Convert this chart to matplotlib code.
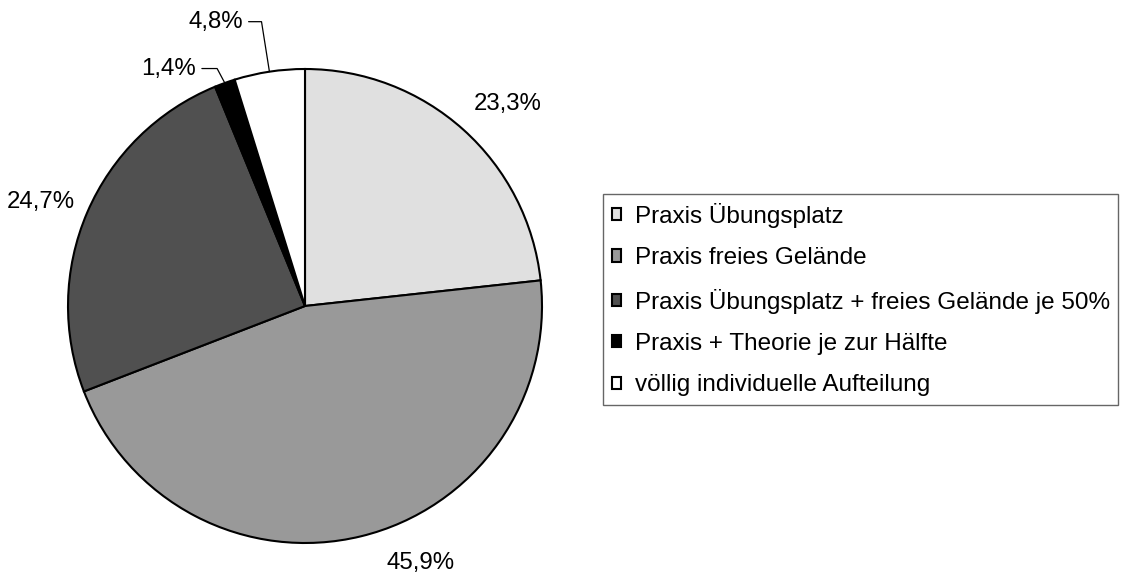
import matplotlib
matplotlib.use('Agg')
import matplotlib.pyplot as plt
import numpy as np

plt.rcParams['font.family'] = ['Liberation Sans', 'DejaVu Sans']

# Daten
categories = ['Praxis Übungsplatz', 'Praxis freies Gelände',
              'Praxis Übungsplatz + freies Gelände je 50%',
              'Praxis + Theorie je zur Hälfte', 'völlig individuelle Aufteilung']
shares = [23.3, 45.9, 24.7, 1.4, 4.8]
colors = ['#e0e0e0', '#999999', '#505050', '#000000', '#ffffff']


def fmt_pct(v):
    return f'{v:.1f}%'.replace('.', ',')


fig = plt.figure(figsize=(11.22, 5.76), dpi=100)
ax = fig.add_axes([68 / 1122, 33 / 576, 474 / 1122, 474 / 576])

wedges, _ = ax.pie(shares, colors=colors, startangle=90, counterclock=False,
                   wedgeprops=dict(edgecolor='black', linewidth=1.5))
for w in wedges:
    w.set_clip_on(False)
ax.set_xlim(-1, 1)
ax.set_ylim(-1, 1)
ax.set_aspect('equal')
ax.axis('off')

# Prozentwerte
label_size = 17.3
nudge = [(9, -7), (35, 14), (-2, -6)]  # Feinjustierung in Punkten (große Segmente)
for i, w in enumerate(wedges):
    mid = np.deg2rad((w.theta1 + w.theta2) / 2)
    edge = (np.cos(mid), np.sin(mid))
    if i < 3:
        ax.annotate(fmt_pct(shares[i]), xy=(1.2 * edge[0], 1.2 * edge[1]),
                    xytext=nudge[i], textcoords='offset points',
                    ha='center', va='center', fontsize=label_size,
                    annotation_clip=False)
    else:
        # kleine Segmente mit Führungslinie
        offs = {3: ((-20.5, 10.4), 118), 4: ((-19, 36), 99)}[i]
        ax.annotate(fmt_pct(shares[i]), xy=edge, xytext=offs[0],
                    textcoords='offset points', ha='right', va='center',
                    fontsize=label_size, annotation_clip=False,
                    arrowprops=dict(arrowstyle='-', color='black', lw=0.9,
                                    shrinkA=2, shrinkB=0,
                                    connectionstyle=f'angle,angleA=0,angleB={offs[1]},rad=0'))

leg = fig.legend(wedges, categories, loc='center left',
                 bbox_to_anchor=(603 / 1122, 1 - 299.5 / 576),
                 fontsize=17.5, frameon=True, fancybox=False,
                 handlelength=0.4, handleheight=0.4, handletextpad=0.55,
                 labelspacing=0.8, borderpad=0.35, borderaxespad=0)
leg.get_frame().set_edgecolor('#404040')
leg.get_frame().set_linewidth(1.0)

plt.savefig('out.png', dpi=100)
